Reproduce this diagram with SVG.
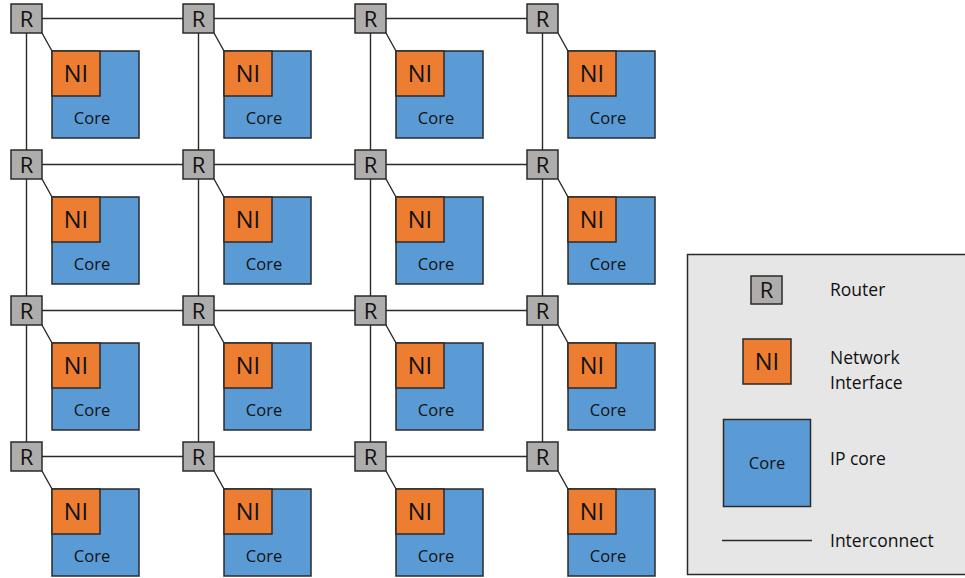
<svg xmlns="http://www.w3.org/2000/svg" xmlns:xlink="http://www.w3.org/1999/xlink" width="965" height="578" viewBox="0 0 965 578">
<style>
.r{fill:#afadab;stroke:#2a2a2a;stroke-width:1.5}
.ni{fill:#ed7d31;stroke:#2a2a2a;stroke-width:1.5}
.co{fill:#5b9bd5;stroke:#2a2a2a;stroke-width:1.5}
.ln{stroke:#2a2a2a;stroke-width:1.4;fill:none}
.tR{font-family:"Open Sans","Noto Sans",sans-serif;font-size:22px;fill:#111;text-anchor:middle}
.tNI{font-family:"Open Sans","Noto Sans",sans-serif;font-size:23.5px;fill:#111;text-anchor:middle}
.tC{font-family:"Open Sans","Noto Sans",sans-serif;font-size:16.5px;fill:#111;text-anchor:middle}
.tL{font-family:"Open Sans","Noto Sans",sans-serif;font-size:17.5px;fill:#111}
</style>
<defs>
<g id="router"><rect class="r" x="0" y="0" width="31" height="29"/><text class="tR" x="15.5" y="22.5">R</text></g>
<g id="tile"><rect class="co" x="0" y="0" width="87" height="87"/><rect class="ni" x="0" y="0" width="48" height="45"/><text class="tNI" x="24" y="31">NI</text><text class="tC" x="40" y="72.5">Core</text></g>
</defs>
<g id="connectors" class="ln">
<path d="M42 18.5H183M214 18.5H355M386 18.5H527"/>
<path d="M42 164.5H183M214 164.5H355M386 164.5H527"/>
<path d="M42 310.5H183M214 310.5H355M386 310.5H527"/>
<path d="M42 456.5H183M214 456.5H355M386 456.5H527"/>
<path d="M26.5 33V150M26.5 179V296M26.5 325V442"/>
<path d="M198.5 33V150M198.5 179V296M198.5 325V442"/>
<path d="M370.5 33V150M370.5 179V296M370.5 325V442"/>
<path d="M542.5 33V150M542.5 179V296M542.5 325V442"/>
<path d="M42 33L52 51M214 33L224 51M386 33L396 51M558 33L568 51"/>
<path d="M42 179L52 197M214 179L224 197M386 179L396 197M558 179L568 197"/>
<path d="M42 325L52 343M214 325L224 343M386 325L396 343M558 325L568 343"/>
<path d="M42 471L52 489M214 471L224 489M386 471L396 489M558 471L568 489"/>
</g>
<g id="r00"><use xlink:href="#router" x="11" y="4"/></g>
<g id="r01"><use xlink:href="#router" x="183" y="4"/></g>
<g id="r02"><use xlink:href="#router" x="355" y="4"/></g>
<g id="r03"><use xlink:href="#router" x="527" y="4"/></g>
<g id="r10"><use xlink:href="#router" x="11" y="150"/></g>
<g id="r11"><use xlink:href="#router" x="183" y="150"/></g>
<g id="r12"><use xlink:href="#router" x="355" y="150"/></g>
<g id="r13"><use xlink:href="#router" x="527" y="150"/></g>
<g id="r20"><use xlink:href="#router" x="11" y="296"/></g>
<g id="r21"><use xlink:href="#router" x="183" y="296"/></g>
<g id="r22"><use xlink:href="#router" x="355" y="296"/></g>
<g id="r23"><use xlink:href="#router" x="527" y="296"/></g>
<g id="r30"><use xlink:href="#router" x="11" y="442"/></g>
<g id="r31"><use xlink:href="#router" x="183" y="442"/></g>
<g id="r32"><use xlink:href="#router" x="355" y="442"/></g>
<g id="r33"><use xlink:href="#router" x="527" y="442"/></g>
<g id="t00"><use xlink:href="#tile" x="52" y="51"/></g>
<g id="t01"><use xlink:href="#tile" x="224" y="51"/></g>
<g id="t02"><use xlink:href="#tile" x="396" y="51"/></g>
<g id="t03"><use xlink:href="#tile" x="568" y="51"/></g>
<g id="t10"><use xlink:href="#tile" x="52" y="197"/></g>
<g id="t11"><use xlink:href="#tile" x="224" y="197"/></g>
<g id="t12"><use xlink:href="#tile" x="396" y="197"/></g>
<g id="t13"><use xlink:href="#tile" x="568" y="197"/></g>
<g id="t20"><use xlink:href="#tile" x="52" y="343"/></g>
<g id="t21"><use xlink:href="#tile" x="224" y="343"/></g>
<g id="t22"><use xlink:href="#tile" x="396" y="343"/></g>
<g id="t23"><use xlink:href="#tile" x="568" y="343"/></g>
<g id="t30"><use xlink:href="#tile" x="52" y="489"/></g>
<g id="t31"><use xlink:href="#tile" x="224" y="489"/></g>
<g id="t32"><use xlink:href="#tile" x="396" y="489"/></g>
<g id="t33"><use xlink:href="#tile" x="568" y="489"/></g>
<g id="legend">
<rect x="687.5" y="254.5" width="280" height="320" fill="#e6e6e6" stroke="#2a2a2a" stroke-width="1.5"/>
<rect class="r" x="751" y="276" width="31" height="28"/><text class="tR" x="766.5" y="298">R</text>
<text class="tL" x="830" y="296">Router</text>
<rect class="ni" x="743" y="339" width="48" height="45"/><text class="tNI" x="767" y="370">NI</text>
<text class="tL" x="830" y="364">Network</text><text class="tL" x="830" y="389">Interface</text>
<rect class="co" x="723.5" y="419.5" width="87" height="87"/><text class="tC" x="767" y="469">Core</text>
<text class="tL" x="830" y="465">IP core</text>
<line class="ln" x1="722" y1="540.5" x2="812" y2="540.5"/>
<text class="tL" x="830" y="547">Interconnect</text>
</g>
</svg>
